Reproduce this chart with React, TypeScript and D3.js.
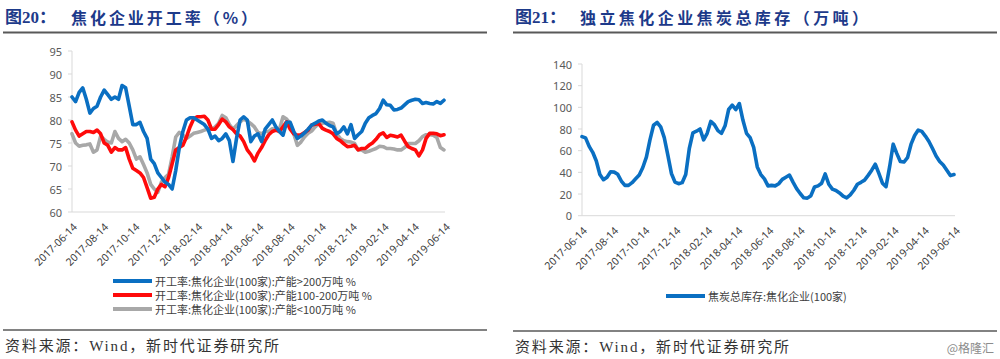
import * as d3 from "d3";

// weekly observations starting from this date
const weekStart = "2017-06-14";

const tickLabels = [
  "2017-06-14", "2017-08-14", "2017-10-14", "2017-12-14", "2018-02-14",
  "2018-04-14", "2018-06-14", "2018-08-14", "2018-10-14", "2018-12-14",
  "2019-02-14", "2019-04-14", "2019-06-14",
];

// 开工率 >200万吨
const rateLarge = [
  85, 84, 86, 87, 84.5, 81.5, 82.5, 83, 85, 86.5,
  85.5, 84.5, 85, 84.5, 87.5, 87, 83, 79, 79, 79.5,
  77.5, 76, 71.5, 70.5, 68.5, 67.5, 66.5, 66, 65, 69,
  74, 77.5, 80, 80.5, 80.5, 80, 79.5, 79, 78, 76,
  76.5, 75.5, 76, 77, 75.5, 71, 76, 80, 80.7, 80,
  75.3, 76.5, 77, 75.3, 78, 79, 80, 78.5, 77.5, 76.7,
  79.5, 79.5, 77.5, 76, 76.5, 77.2, 78, 78.9, 79.3, 79.8,
  80, 79.3, 78.8, 78.5, 77, 77.5, 78.5, 77, 79, 76,
  76.8, 77.5, 79.3, 80.5, 81, 81.4, 82.5, 84.3, 83.3, 83.2,
  82.2, 82.3, 82.6, 83.3, 84, 84.3, 84.5, 84.4, 83.6, 83.8,
  83.6, 83.5, 84, 83.6, 84.3,
];

// 开工率 100-200万吨
const rateMid = [
  79.6, 77.8, 76.5, 77, 77.5, 77.5, 77.3, 77.8, 77, 75,
  74.5, 73, 74, 73.5, 73.5, 74, 71.5, 69.5, 69, 68.5,
  67.5, 65.3, 63, 63.2, 65, 66, 65.5, 67.5, 70.5, 73.5,
  74, 74.5, 76.3, 78.5, 80.2, 80.7, 80.7, 80.8, 80, 78,
  78, 79, 80.2, 79.6, 78.5, 77.9, 77, 76.5, 75.3, 73.5,
  72.5, 71.1, 72.8, 74, 75.5, 76.8, 77.5, 77.8, 77.5, 78.5,
  79.6, 78, 77, 76.7, 76.8, 77.3, 77.8, 78.9, 79.1, 79.2,
  78.2, 77.8, 77.5, 77, 76, 75.5, 74.8, 74.2, 74.3, 74.5,
  73.5, 73.8, 73.8, 74.5, 75, 75.8, 76.8, 77.2, 76.2, 76.7,
  76.5, 76.3, 76.7, 75.4, 74.2, 73.8, 73.5, 72.2, 73.5, 76,
  77.1, 77.1, 77, 76.6, 76.8,
];

// 开工率 <100万吨
const rateSmall = [
  77, 75, 74.3, 74.5, 74.6, 74.8, 73, 73.5, 76.5, 75.8,
  75.2, 75, 77.5, 76, 75.3, 75.8, 75, 73.5, 71.5, 72,
  70.3, 68.5, 66, 65, 64.3, 66.5, 67.5, 68.2, 72, 76.3,
  77.3, 76.7, 76, 76.5, 77.1, 77.3, 77.5, 77.8, 78, 78,
  78.5, 79.3, 81, 80.5, 79, 78, 78.8, 79.6, 80.2, 79.8,
  79.2, 78.5, 77.3, 77, 77.5, 77.5, 78.1, 78, 78, 80.7,
  80.2, 79.3, 77, 74.5, 75.2, 76.3, 77.1, 77.6, 78.5, 79.3,
  79.3, 79.4, 79.5, 79.3, 77, 76, 75.5, 75.3, 75.2, 74.9,
  73.5, 73.5, 73, 73.2, 73.5, 73.8, 74.3, 74.2, 73.8, 73.8,
  73.7, 73.5, 73.5, 74, 74.9, 74.9, 74.9, 75.5, 76.4, 76.8,
  76.8, 76.7, 76.2, 74, 73.5,
];

// 焦炭总库存 (万吨)
const cokeStock = [
  73, 71.8, 64, 58.5, 50.5, 38, 33.2, 35.5, 40.5, 40.2,
  38.2, 32, 28, 28, 30.5, 34, 37.5, 44.5, 54, 70,
  83.5, 86, 82, 72, 56, 39, 31, 29.5, 30.5, 38,
  62, 76.5, 78, 80, 70, 76, 87, 84, 78.5, 76,
  83, 98, 102, 98, 103.5, 88, 76, 72, 63, 45,
  38, 34, 27.5, 28, 27.5, 29.5, 33.5, 35.5, 37.5, 31,
  25, 20.5, 16.5, 16.2, 18.5, 26.5, 27.5, 30, 38.5, 29,
  24.5, 23.3, 21, 18, 16.5, 19.2, 23.5, 29, 30.8, 32.8,
  37.2, 42, 47.5, 39, 30, 26.8, 45, 66, 57.5, 50,
  49.5, 53.5, 66, 74, 79, 77.8, 73.5, 68.5, 62, 55,
  50, 46.8, 42, 37, 38,
];

const rateTicks = [60, 65, 70, 75, 80, 85, 90, 95];
const stockTicks = [0, 20, 40, 60, 80, 100, 120, 140];

const rateNames = [
  "开工率:焦化企业(100家):产能>200万吨 %",
  "开工率:焦化企业(100家):产能100-200万吨 %",
  "开工率:焦化企业(100家):产能<100万吨 %",
];
const stockName = "焦炭总库存:焦化企业(100家)";

const BLUE = "#0a6fc2";
const RED = "#ff0a0a";
const GRAY = "#a8a8a8";
const TITLE = "#1d3a8a";
const AXIS_FONT = "'Noto Sans', 'Noto Sans CJK SC', sans-serif";

const parse = d3.timeParse("%Y-%m-%d");
const start = parse(weekStart)!;

type Series = { values: number[]; color: string };

function Panel(props: {
  x0: number;
  x1: number;
  yTop: number;
  yBottom: number;
  domain: [number, number];
  ticks: number[];
  series: Series[];
}) {
  const { x0, x1, yTop, yBottom, domain, ticks, series } = props;
  const x = d3
    .scaleTime()
    .domain([parse(tickLabels[0])!, parse(tickLabels[tickLabels.length - 1])!])
    .range([x0, x1]);
  const y = d3.scaleLinear().domain(domain).range([yBottom, yTop]);
  const line = d3
    .line<number>()
    .x((_, i) => x(d3.timeDay.offset(start, 7 * i)))
    .y((d) => y(d))
    .curve(d3.curveLinear);

  return (
    <g>
      <line x1={x0} x2={x0} y1={yTop} y2={yBottom} stroke="#d9d9d9" />
      <line x1={x0} x2={x1} y1={yBottom} y2={yBottom} stroke="#d9d9d9" />
      {ticks.map((t) => (
        <g key={t}>
          <line x1={x0 - 4} x2={x0} y1={y(t)} y2={y(t)} stroke="#d9d9d9" />
          <text
            x={x0 - 10}
            y={y(t)}
            textAnchor="end"
            dominantBaseline="central"
            fontSize={11}
            fill="#595959"
            fontFamily={AXIS_FONT}
          >
            {t}
          </text>
        </g>
      ))}
      {tickLabels.map((s) => {
        const tx = x(parse(s)!);
        return (
          <text
            key={s}
            transform={`translate(${tx + 3},${yBottom + 13}) rotate(-45)`}
            textAnchor="end"
            dominantBaseline="central"
            fontSize={10.5}
            fill="#404040"
            fontFamily={AXIS_FONT}
          >
            {s}
          </text>
        );
      })}
      {series.map((s, i) => (
        <path
          key={i}
          d={line(s.values) || ""}
          fill="none"
          stroke={s.color}
          strokeWidth={3.6}
          strokeLinejoin="round"
          strokeLinecap="round"
        />
      ))}
    </g>
  );
}

function Legend(props: { x: number; y: number; items: { name: string; color: string }[] }) {
  return (
    <g>
      {props.items.map((it, i) => (
        <g key={it.name} transform={`translate(${props.x},${props.y + i * 14})`}>
          <line x1={0} x2={39} y1={0} y2={0} stroke={it.color} strokeWidth={4} />
          <text
            x={42}
            y={0}
            dominantBaseline="central"
            fontSize={11}
            fill="#404040"
            fontFamily="'Noto Sans CJK SC', sans-serif"
          >
            {it.name}
          </text>
        </g>
      ))}
    </g>
  );
}

function Header(props: {
  x: number;
  label: string;
  text: string;
  textX: number;
  textW: number;
  width: number;
}) {
  return (
    <g>
      <text
        x={props.x}
        y={17}
        dominantBaseline="central"
        fontSize={17}
        fontWeight="bold"
        fill={TITLE}
        fontFamily="'Liberation Serif', 'Noto Sans CJK SC', serif"
      >
        {props.label}
      </text>
      <text
        x={props.textX}
        y={17}
        dominantBaseline="central"
        fontSize={16}
        fontWeight="bold"
        fill={TITLE}
        fontFamily="'Noto Sans CJK SC', sans-serif"
        textLength={props.textW}
        lengthAdjust="spacing"
      >
        {props.text}
      </text>
      <line x1={props.x - 2} x2={props.x - 2 + props.width} y1={32.5} y2={32.5} stroke="#595959" strokeWidth={2} />
    </g>
  );
}

function Footer(props: { x: number; y: number; width: number }) {
  return (
    <g>
      <line x1={props.x - 2} x2={props.x - 2 + props.width} y1={props.y} y2={props.y} stroke="#595959" strokeWidth={1.5} />
      <text
        x={props.x}
        y={props.y + 16}
        dominantBaseline="central"
        fontSize={15}
        fill="#333"
        fontFamily="'Liberation Serif', 'Noto Sans CJK SC', serif"
        textLength={274}
        lengthAdjust="spacing"
      >
        资料来源：Wind，新时代证券研究所
      </text>
    </g>
  );
}

export default function App() {
  return (
    <svg
      width={1000}
      height={359}
      style={{ position: "absolute", left: 0, top: 0, background: "#fff" }}
    >
      <rect width={1000} height={359} fill="#fff" />
      <Header x={5} label="图20：" text="焦化企业开工率（%）" textX={71} textW={186} width={484} />
      <Header x={515} label="图21：" text="独立焦化企业焦炭总库存（万吨）" textX={580} textW={288} width={484} />

      <Panel
        x0={72}
        x1={445}
        yTop={51}
        yBottom={212}
        domain={[60, 95]}
        ticks={rateTicks}
        series={[
          { values: rateSmall, color: GRAY },
          { values: rateMid, color: RED },
          { values: rateLarge, color: BLUE },
        ]}
      />
      <Legend
        x={113}
        y={281}
        items={[
          { name: rateNames[0], color: BLUE },
          { name: rateNames[1], color: RED },
          { name: rateNames[2], color: GRAY },
        ]}
      />

      <Panel
        x0={582}
        x1={955}
        yTop={64}
        yBottom={215.7}
        domain={[0, 140]}
        ticks={stockTicks}
        series={[{ values: cokeStock, color: BLUE }]}
      />
      <Legend x={666} y={296} items={[{ name: stockName, color: BLUE }]} />

      <Footer x={5} y={330} width={484} />
      <Footer x={515} y={331} width={484} />
      <text
        x={994}
        y={347}
        textAnchor="end"
        dominantBaseline="central"
        fontSize={12}
        fill="#8c8c8c"
        fontFamily="'Noto Sans CJK SC', sans-serif"
      >
        @格隆汇
      </text>
    </svg>
  );
}
